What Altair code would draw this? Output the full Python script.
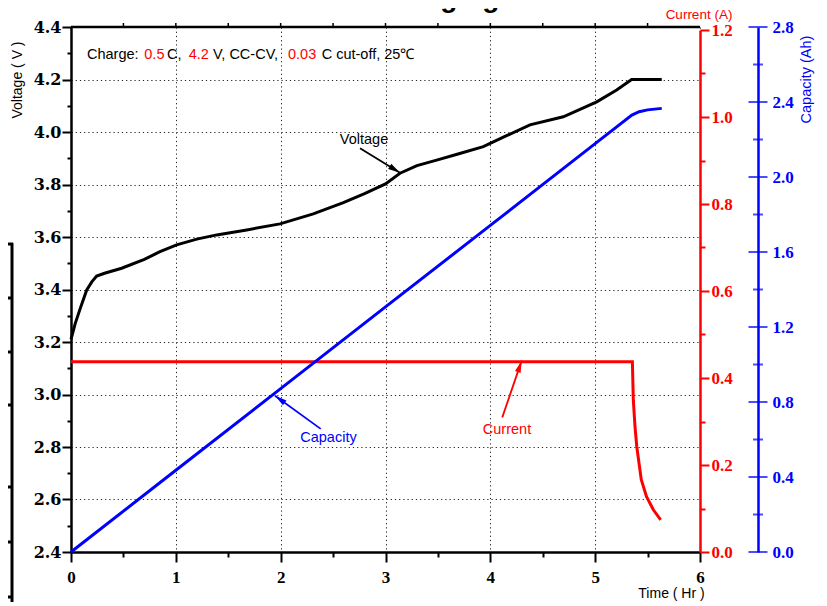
import math
import altair as alt
import pandas as pd

W, H = 629, 525

# ---- data ----
volt_t = [0.0, 0.04, 0.09, 0.15, 0.20, 0.245, 0.32, 0.483, 0.70, 0.849, 1.008, 1.20, 1.39, 1.676,
          1.994, 2.311, 2.598, 2.80, 3.00, 3.138, 3.30, 3.488, 3.70, 3.933, 4.15, 4.378, 4.696,
          5.015, 5.205, 5.348, 5.635]
volt_v = [3.21, 3.27, 3.33, 3.398, 3.43, 3.451, 3.462, 3.481, 3.515, 3.544, 3.570, 3.592, 3.608,
          3.627, 3.650, 3.688, 3.731, 3.765, 3.802, 3.843, 3.872, 3.893, 3.917, 3.944, 3.985,
          4.027, 4.058, 4.115, 4.160, 4.200, 4.200]

cur_t = [0.0, 5.355, 5.364, 5.38, 5.397, 5.44, 5.49, 5.555, 5.625]
cur_a = [0.4375, 0.4375, 0.349, 0.288, 0.242, 0.166, 0.127, 0.097, 0.074]

cap_t = [0.0, 1.0, 2.0, 3.0, 4.0, 5.0, 5.35, 5.42, 5.50, 5.635]
cap_ah = [0.0, 0.436, 0.871, 1.307, 1.742, 2.178, 2.330, 2.348, 2.358, 2.366]

time_ticks = [0, 0.5, 1, 1.5, 2, 2.5, 3, 3.5, 4, 4.5, 5, 5.5, 6]
top_ticks = [0.5, 1, 1.5, 2, 2.5, 3, 3.5, 4, 4.5, 5, 5.5]
volt_ticks = [2.4, 2.5, 2.6, 2.7, 2.8, 2.9, 3.0, 3.1, 3.2, 3.3, 3.4, 3.5, 3.6, 3.7, 3.8, 3.9,
              4.0, 4.1, 4.2, 4.3, 4.4]
cur_ticks = [0.0, 0.1, 0.2, 0.3, 0.4, 0.5, 0.6, 0.7, 0.8, 0.9, 1.0, 1.1, 1.2]
cap_ticks = [0.0, 0.2, 0.4, 0.6, 0.8, 1.0, 1.2, 1.4, 1.6, 1.8, 2.0, 2.2, 2.4, 2.6, 2.8]
cap_labels = [0.0, 0.4, 0.8, 1.2, 1.6, 2.0, 2.4, 2.8]

ann_names = ["Voltage", "Capacity", "Current"]
ann_colors = ["black", "blue", "red"]
ann_text_t = [2.795, 2.456, 4.159]
ann_text_v = [3.969, 2.834, 2.865]
ann_tail_t = [2.757, 2.382, 4.114]
ann_tail_v = [3.938, 2.869, 2.913]
ann_head_t = [3.138, 1.946, 4.299]
ann_head_v = [3.845, 2.995, 3.129]

legend_parts = ["Charge:", "0.5", "C,", "4.2", "V, CC-CV,", "0.03", "C cut-off, 25\u2103"]
legend_colors = ["black", "red", "black", "red", "black", "red", "black"]
legend_x = [16, 73.3, 96, 117.7, 142, 217, 250.7]

title_text = "5. Characteristics: Charging"

SANS = "Liberation Sans"
SERIF = "Liberation Serif"
WIDE_SERIF = "DejaVu Serif"

xs = alt.Scale(domain=[0, 6], nice=False, zero=False)
vs = alt.Scale(domain=[2.4, 4.4], nice=False, zero=False)
cs = alt.Scale(domain=[0, 1.2], nice=False, zero=False, range=[H, 3])
ks = alt.Scale(domain=[0, 2.8], nice=False, zero=False)

maj_t = "round(datum.value*2) % 2 === 0"
maj_v = "round(datum.value*10) % 2 === 0"

x_axis = alt.Axis(
    orient="bottom", values=time_ticks, title=None,
    labelExpr=f"{maj_t} ? format(datum.value, 'd') : ''",
    tickSize={"condition": {"test": maj_t, "value": 10}, "value": 5},
    tickColor="black", tickWidth=2, domainColor="black", domainWidth=2.5,
    labelFont=SERIF, labelFontWeight="bold", labelFontSize=17, labelColor="black",
    labelPadding=7, labelFlush=False, labelOverlap=False,
    grid=True, gridColor="#222", gridDash=[1.2, 3], gridWidth=1,
    gridOpacity={"condition": {"test": maj_t, "value": 1}, "value": 0},
)

v_axis = alt.Axis(
    orient="left", values=volt_ticks, title=None,
    labelExpr=f"{maj_v} ? format(datum.value, '.1f') : ''",
    tickSize={"condition": {"test": maj_v, "value": 9}, "value": 4},
    tickColor="black", tickWidth=2, domainColor="black", domainWidth=2.5,
    labelFont=WIDE_SERIF, labelFontWeight="bold", labelFontSize=16, labelColor="black",
    labelPadding=1, labelFlush=False, labelOverlap=False,
    grid=True, gridColor="#222", gridDash=[1.2, 3], gridWidth=1,
    gridOpacity={"condition": {"test": maj_v, "value": 1}, "value": 0},
)

c_axis = alt.Axis(
    orient="right", values=cur_ticks, title=None, grid=False,
    labelExpr=f"{maj_v} ? format(datum.value, '.1f') : ''",
    tickSize={"condition": {"test": maj_v, "value": 9}, "value": 5},
    tickColor="red", tickWidth=2, domainColor="red", domainWidth=2.5,
    labelFont=SERIF, labelFontWeight="bold", labelFontSize=17, labelColor="red",
    labelPadding=2, labelFlush=False, labelOverlap=False,
)

k_axis = alt.Axis(
    orient="right", offset=58, values=cap_labels, title=None, grid=False,
    ticks=False, tickSize=0, format=".1f",
    domainColor="blue", domainWidth=2.5,
    labelFont=SERIF, labelFontWeight="bold", labelFontSize=17, labelColor="blue",
    labelPadding=14, labelFlush=False, labelOverlap=False,
)


def X(field="t"):
    # every layer that uses the time scale carries the same axis spec, so they merge cleanly
    return alt.X(f"{field}:Q", scale=xs, axis=x_axis)


layers = []

# ---- voltage ----
vdf = pd.DataFrame({"t": volt_t, "v": volt_v})
layers.append(alt.Chart(vdf).mark_line(color="black", strokeWidth=3).encode(
    x=X(), y=alt.Y("v:Q", scale=vs, axis=v_axis)))

# ---- current ----
cdf = pd.DataFrame({"t": cur_t, "a": cur_a})
layers.append(alt.Chart(cdf).mark_line(color="red", strokeWidth=3).encode(
    x=X(), y=alt.Y("a:Q", scale=cs, axis=c_axis)))

# ---- capacity ----
kdf = pd.DataFrame({"t": cap_t, "k": cap_ah})
layers.append(alt.Chart(kdf).mark_line(color="blue", strokeWidth=3).encode(
    x=X(), y=alt.Y("k:Q", scale=ks, axis=k_axis)))
layers.append(alt.Chart(pd.DataFrame({"k": cap_ticks})).mark_tick(
    color="blue", thickness=2, orient="horizontal").encode(
    y=alt.Y("k:Q", scale=ks, axis=None),
    x=alt.value(W + 58),
    size=alt.condition("round(datum.k*10) % 4 === 0", alt.value(19), alt.value(10)),
))

# top frame with small upward ticks
layers.append(alt.Chart(pd.DataFrame({"a": [0]})).mark_rule(color="black", strokeWidth=2.5).encode(
    x=alt.value(0), x2=alt.value(W), y=alt.value(0)))
layers.append(alt.Chart(pd.DataFrame({"t": top_ticks})).mark_rule(color="black", strokeWidth=1.5).encode(
    x=X(), y=alt.value(0), y2=alt.value(-4)))

# arrows + labels
ARROW = "M0,0L-0.6,2.4L0.6,2.4Z"
for i in range(len(ann_names)):
    c = ann_colors[i]
    seg = pd.DataFrame({"t": [ann_tail_t[i], ann_head_t[i]], "v": [ann_tail_v[i], ann_head_v[i]]})
    dx = (ann_head_t[i] - ann_tail_t[i]) / 6.0 * W
    dy = -(ann_head_v[i] - ann_tail_v[i]) / 2.0 * H
    ang = math.degrees(math.atan2(dx, -dy)) % 360
    layers.append(alt.Chart(seg).mark_line(color=c, strokeWidth=1.8).encode(
        x=X(), y=alt.Y("v:Q", scale=vs, axis=None)))
    layers.append(alt.Chart(pd.DataFrame({"t": [ann_head_t[i]], "v": [ann_head_v[i]]})).mark_point(
        shape=ARROW, size=100, filled=True, color=c, opacity=1, angle=ang, strokeWidth=0).encode(
        x=X(), y=alt.Y("v:Q", scale=vs, axis=None)))
    layers.append(alt.Chart(pd.DataFrame({"t": [ann_text_t[i]], "v": [ann_text_v[i]], "s": [ann_names[i]]})).mark_text(
        color=c, font=SANS, fontSize=14.5, align="center", baseline="middle").encode(
        x=X(), y=alt.Y("v:Q", scale=vs, axis=None), text="s:N"))

# condition legend line
for i, part in enumerate(legend_parts):
    layers.append(
        alt.Chart(pd.DataFrame({"s": [part]})).mark_text(
            color=legend_colors[i], font=SANS, fontSize=14.5, align="left", baseline="middle").encode(
            x=alt.value(legend_x[i]), y=alt.value(28), text="s:N"))


def label(txt, x, y, color="black", angle=0, size=14.5, weight="normal"):
    return alt.Chart(pd.DataFrame({"s": [txt]})).mark_text(
        color=color, font=SANS, fontSize=size, fontWeight=weight, angle=angle,
        align="center", baseline="middle").encode(x=alt.value(x), y=alt.value(y), text="s:N")


layers.append(alt.Chart(pd.DataFrame({"s": [title_text]})).mark_text(
    color="black", font=SANS, fontSize=28, fontWeight="bold", align="center",
    baseline="alphabetic").encode(x=alt.value(241.5), y=alt.value(-20), text="s:N"))
layers.append(label("Voltage ( V )", -53, 53, angle=270, size=14))
layers.append(label("Current  (A)", 628, -12, color="red", size=13.5))
layers.append(label("Capacity  (Ah)", 735.5, 52.5, color="blue", angle=270))
layers.append(label("Time  ( Hr )", 600.5, 567, size=14))

# left-edge table border fragment visible in the reference
layers.append(alt.Chart(pd.DataFrame({"a": [0]})).mark_rule(color="black", strokeWidth=3).encode(
    x=alt.value(-59), y=alt.value(216), y2=alt.value(590)))
for yy in [217, 271, 325, 378, 460, 515, 570]:
    layers.append(alt.Chart(pd.DataFrame({"a": [0]})).mark_rule(color="black", strokeWidth=3).encode(
        x=alt.value(-75), x2=alt.value(-58), y=alt.value(yy)))

chart = alt.layer(*layers).resolve_scale(y="independent").properties(
    width=W, height=H,
    autosize=alt.AutoSizeParams(type="none"),
    padding={"left": 63, "top": 19, "right": 119, "bottom": 50},
    background="white",
).configure_view(stroke=None)

chart.save("out.html", embed_options={"renderer": "svg", "actions": False})
